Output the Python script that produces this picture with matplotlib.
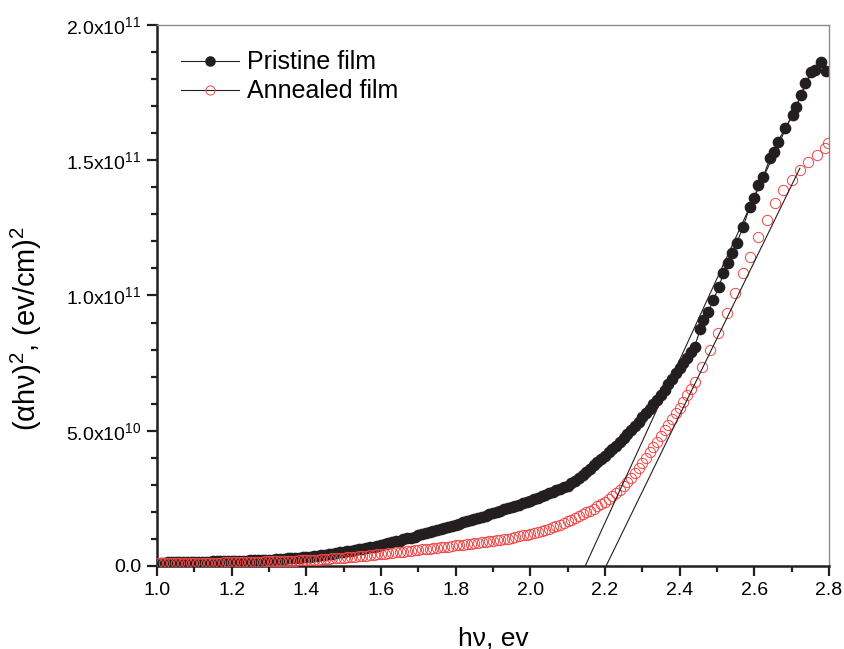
import numpy as np
import matplotlib
matplotlib.use('Agg')
import matplotlib.pyplot as plt
from matplotlib.lines import Line2D
from matplotlib.ticker import MultipleLocator, FuncFormatter

plt.rcParams['font.family'] = ['Liberation Sans', 'DejaVu Sans']
plt.rcParams['mathtext.fontset'] = 'custom'
plt.rcParams['mathtext.rm'] = 'Liberation Sans'
plt.rcParams['mathtext.it'] = 'Liberation Sans:italic'
plt.rcParams['mathtext.bf'] = 'Liberation Sans:bold'

# photon energy (eV), dense part of the scan, 1.00 .. 2.44
hv_dense = [1.00, 1.01, 1.02, 1.03, 1.04, 1.05, 1.06, 1.07, 1.08, 1.09,
            1.10, 1.11, 1.12, 1.13, 1.14, 1.15, 1.16, 1.17, 1.18, 1.19,
            1.20, 1.21, 1.22, 1.23, 1.24, 1.25, 1.26, 1.27, 1.28, 1.29,
            1.30, 1.31, 1.32, 1.33, 1.34, 1.35, 1.36, 1.37, 1.38, 1.39,
            1.40, 1.41, 1.42, 1.43, 1.44, 1.45, 1.46, 1.47, 1.48, 1.49,
            1.50, 1.51, 1.52, 1.53, 1.54, 1.55, 1.56, 1.57, 1.58, 1.59,
            1.60, 1.61, 1.62, 1.63, 1.64, 1.65, 1.66, 1.67, 1.68, 1.69,
            1.70, 1.71, 1.72, 1.73, 1.74, 1.75, 1.76, 1.77, 1.78, 1.79,
            1.80, 1.81, 1.82, 1.83, 1.84, 1.85, 1.86, 1.87, 1.88, 1.89,
            1.90, 1.91, 1.92, 1.93, 1.94, 1.95, 1.96, 1.97, 1.98, 1.99,
            2.00, 2.01, 2.02, 2.03, 2.04, 2.05, 2.06, 2.07, 2.08, 2.09,
            2.10, 2.11, 2.12, 2.13, 2.14, 2.15, 2.16, 2.17, 2.18, 2.19,
            2.20, 2.21, 2.22, 2.23, 2.24, 2.25, 2.26, 2.27, 2.28, 2.29,
            2.30, 2.31, 2.32, 2.33, 2.34, 2.35, 2.36, 2.37, 2.38, 2.39,
            2.40, 2.41, 2.42, 2.43, 2.44]

# (alpha h nu)^2 in units of 1e10 (eV/cm)^2
pristine_dense = [0.12, 0.12, 0.12, 0.13, 0.13, 0.13, 0.14, 0.14, 0.14, 0.15,
                  0.15, 0.15, 0.16, 0.16, 0.16, 0.17, 0.17, 0.17, 0.18, 0.18,
                  0.19, 0.19, 0.19, 0.20, 0.20, 0.21, 0.21, 0.22, 0.22, 0.23,
                  0.23, 0.24, 0.25, 0.26, 0.27, 0.28, 0.29, 0.30, 0.31, 0.32,
                  0.34, 0.35, 0.37, 0.38, 0.40, 0.42, 0.44, 0.46, 0.48, 0.50,
                  0.52, 0.54, 0.56, 0.59, 0.61, 0.64, 0.67, 0.69, 0.72, 0.75,
                  0.78, 0.81, 0.84, 0.87, 0.91, 0.94, 0.98, 1.02, 1.05, 1.09,
                  1.13, 1.17, 1.21, 1.25, 1.29, 1.33, 1.37, 1.41, 1.45, 1.49,
                  1.53, 1.57, 1.61, 1.65, 1.70, 1.74, 1.78, 1.82, 1.86, 1.91,
                  1.95, 2.00, 2.04, 2.09, 2.13, 2.18, 2.23, 2.27, 2.32, 2.37,
                  2.42, 2.47, 2.52, 2.58, 2.63, 2.68, 2.74, 2.80, 2.85, 2.91,
                  2.97, 3.06, 3.15, 3.25, 3.35, 3.46, 3.58, 3.72, 3.84, 3.96,
                  4.08, 4.20, 4.32, 4.45, 4.58, 4.72, 4.87, 5.02, 5.17, 5.33,
                  5.50, 5.66, 5.82, 5.98, 6.14, 6.32, 6.52, 6.72, 6.92, 7.12,
                  7.32, 7.50, 7.70, 7.90, 8.10]

annealed_dense = [0.10, 0.10, 0.10, 0.10, 0.10, 0.10, 0.11, 0.11, 0.11, 0.11,
                  0.11, 0.11, 0.12, 0.12, 0.12, 0.12, 0.12, 0.12, 0.13, 0.13,
                  0.13, 0.13, 0.14, 0.14, 0.14, 0.15, 0.15, 0.16, 0.16, 0.17,
                  0.17, 0.17, 0.18, 0.18, 0.19, 0.19, 0.20, 0.20, 0.21, 0.21,
                  0.22, 0.23, 0.23, 0.24, 0.25, 0.26, 0.27, 0.28, 0.29, 0.30,
                  0.31, 0.32, 0.33, 0.34, 0.36, 0.37, 0.38, 0.40, 0.41, 0.43,
                  0.44, 0.46, 0.47, 0.49, 0.50, 0.52, 0.53, 0.55, 0.56, 0.58,
                  0.59, 0.61, 0.62, 0.64, 0.66, 0.67, 0.69, 0.71, 0.72, 0.74,
                  0.76, 0.78, 0.79, 0.81, 0.83, 0.85, 0.86, 0.88, 0.90, 0.92,
                  0.93, 0.95, 0.97, 0.99, 1.01, 1.04, 1.07, 1.10, 1.13, 1.16,
                  1.20, 1.23, 1.26, 1.30, 1.34, 1.38, 1.43, 1.48, 1.53, 1.59,
                  1.65, 1.71, 1.77, 1.84, 1.91, 1.98, 2.05, 2.12, 2.20, 2.28,
                  2.37, 2.47, 2.58, 2.70, 2.82, 2.95, 3.10, 3.26, 3.43, 3.61,
                  3.80, 4.00, 4.20, 4.40, 4.60, 4.80, 5.01, 5.22, 5.43, 5.64,
                  5.85, 6.08, 6.32, 6.56, 6.80]

# sparser high-energy end of the scan
hv_pristine_top = [2.455, 2.463, 2.477, 2.49, 2.505, 2.517, 2.53, 2.539, 2.553,
                   2.57, 2.588, 2.60, 2.611, 2.624, 2.642, 2.652, 2.664, 2.682,
                   2.704, 2.713, 2.725, 2.736, 2.753, 2.762, 2.78, 2.792]
pristine_top = [8.75, 9.09, 9.40, 9.83, 10.30, 10.82, 11.20, 11.56, 11.93,
                12.54, 13.28, 13.60, 14.08, 14.39, 15.07, 15.30, 15.69, 16.18,
                16.67, 16.98, 17.40, 17.84, 18.27, 18.34, 18.64, 18.31]

hv_annealed_top = [2.459, 2.481, 2.504, 2.526, 2.548, 2.57, 2.588, 2.611, 2.633,
                   2.655, 2.678, 2.70, 2.722, 2.745, 2.767, 2.79, 2.798]
annealed_top = [7.37, 7.99, 8.60, 9.34, 10.08, 10.82, 11.43, 12.17, 12.79,
                13.41, 13.90, 14.27, 14.64, 14.95, 15.19, 15.44, 15.63]

# linear extrapolations to the energy axis (band gap)
fit_pristine_x = [2.147, 2.75]
fit_pristine_y = [0.0, 18.15]
fit_annealed_x = [2.203, 2.722]
fit_annealed_y = [0.0, 14.70]

scale = 1e10

fig = plt.figure(figsize=(8.45, 6.49), dpi=100)
ax = fig.add_axes([0.1858, 0.1279, 0.7952, 0.8336])

red = '#f04646'
ink = '#231f20'

x_p = hv_dense + hv_pristine_top
y_p = np.array(pristine_dense + pristine_top) * scale
x_a = hv_dense + hv_annealed_top
y_a = np.array(annealed_dense + annealed_top) * scale

ax.plot(x_p, y_p, color=ink, lw=0.8, marker='o', ms=7.4, mfc=ink, mec=ink, zorder=2)
ax.plot(x_a, y_a, ls='none', marker='o', ms=7.4, mfc='none', mec=red, mew=0.7, zorder=3)
ax.plot(fit_pristine_x, np.array(fit_pristine_y) * scale, color=ink, lw=0.8, zorder=4)
ax.plot(fit_annealed_x, np.array(fit_annealed_y) * scale, color=ink, lw=0.8, zorder=4)

ax.set_xlim(1.0, 2.8)
ax.set_ylim(0, 2.0e11)

ax.xaxis.set_major_locator(MultipleLocator(0.2))
ax.xaxis.set_minor_locator(MultipleLocator(0.1))
ax.yaxis.set_major_locator(MultipleLocator(5e10))
ax.yaxis.set_minor_locator(MultipleLocator(1e10))


def yfmt(v, pos):
    if v == 0:
        return '0.0'
    e = int(np.floor(np.log10(abs(v))))
    m = v / 10 ** e
    return r'$\mathregular{%.1fx10^{%d}}$' % (m, e)


ax.yaxis.set_major_formatter(FuncFormatter(yfmt))
ax.xaxis.set_major_formatter(FuncFormatter(lambda v, p: '%.1f' % v))

ax.tick_params(which='both', direction='out', color=ink, labelsize=14, top=False, right=False)
ax.tick_params(which='major', length=7.5, width=1.6, pad=4)
ax.tick_params(which='minor', length=4.5, width=1.6)

for s in ['left', 'bottom']:
    ax.spines[s].set_linewidth(1.8)
    ax.spines[s].set_color(ink)
for s in ['top', 'right']:
    ax.spines[s].set_linewidth(1.0)
    ax.spines[s].set_color('#8a8a8a')

ax.set_xlabel('h\u03bd, ev', fontsize=19)
ax.xaxis.set_label_coords(0.5, -0.112)
ax.set_ylabel('(\u03b1h\u03bd)$^{2}$, (ev/cm)$^{2}$', fontsize=21)
ax.yaxis.set_label_coords(-0.168, 0.44)

handles = [
    Line2D([], [], color=ink, lw=0.8, marker='o', ms=6.6, mfc=ink, mec=ink),
    Line2D([], [], color=ink, lw=0.8, marker='o', ms=6.6, mfc='none', mec=red, mew=0.7),
]
ax.legend(handles, ['Pristine film', 'Annealed film'], loc='upper left',
          bbox_to_anchor=(0.036, 0.953), frameon=False, fontsize=18,
          numpoints=1, handlelength=2.3, handletextpad=0.35,
          labelspacing=0.2, borderpad=0, borderaxespad=0)

fig.savefig('out.png', dpi=100)
